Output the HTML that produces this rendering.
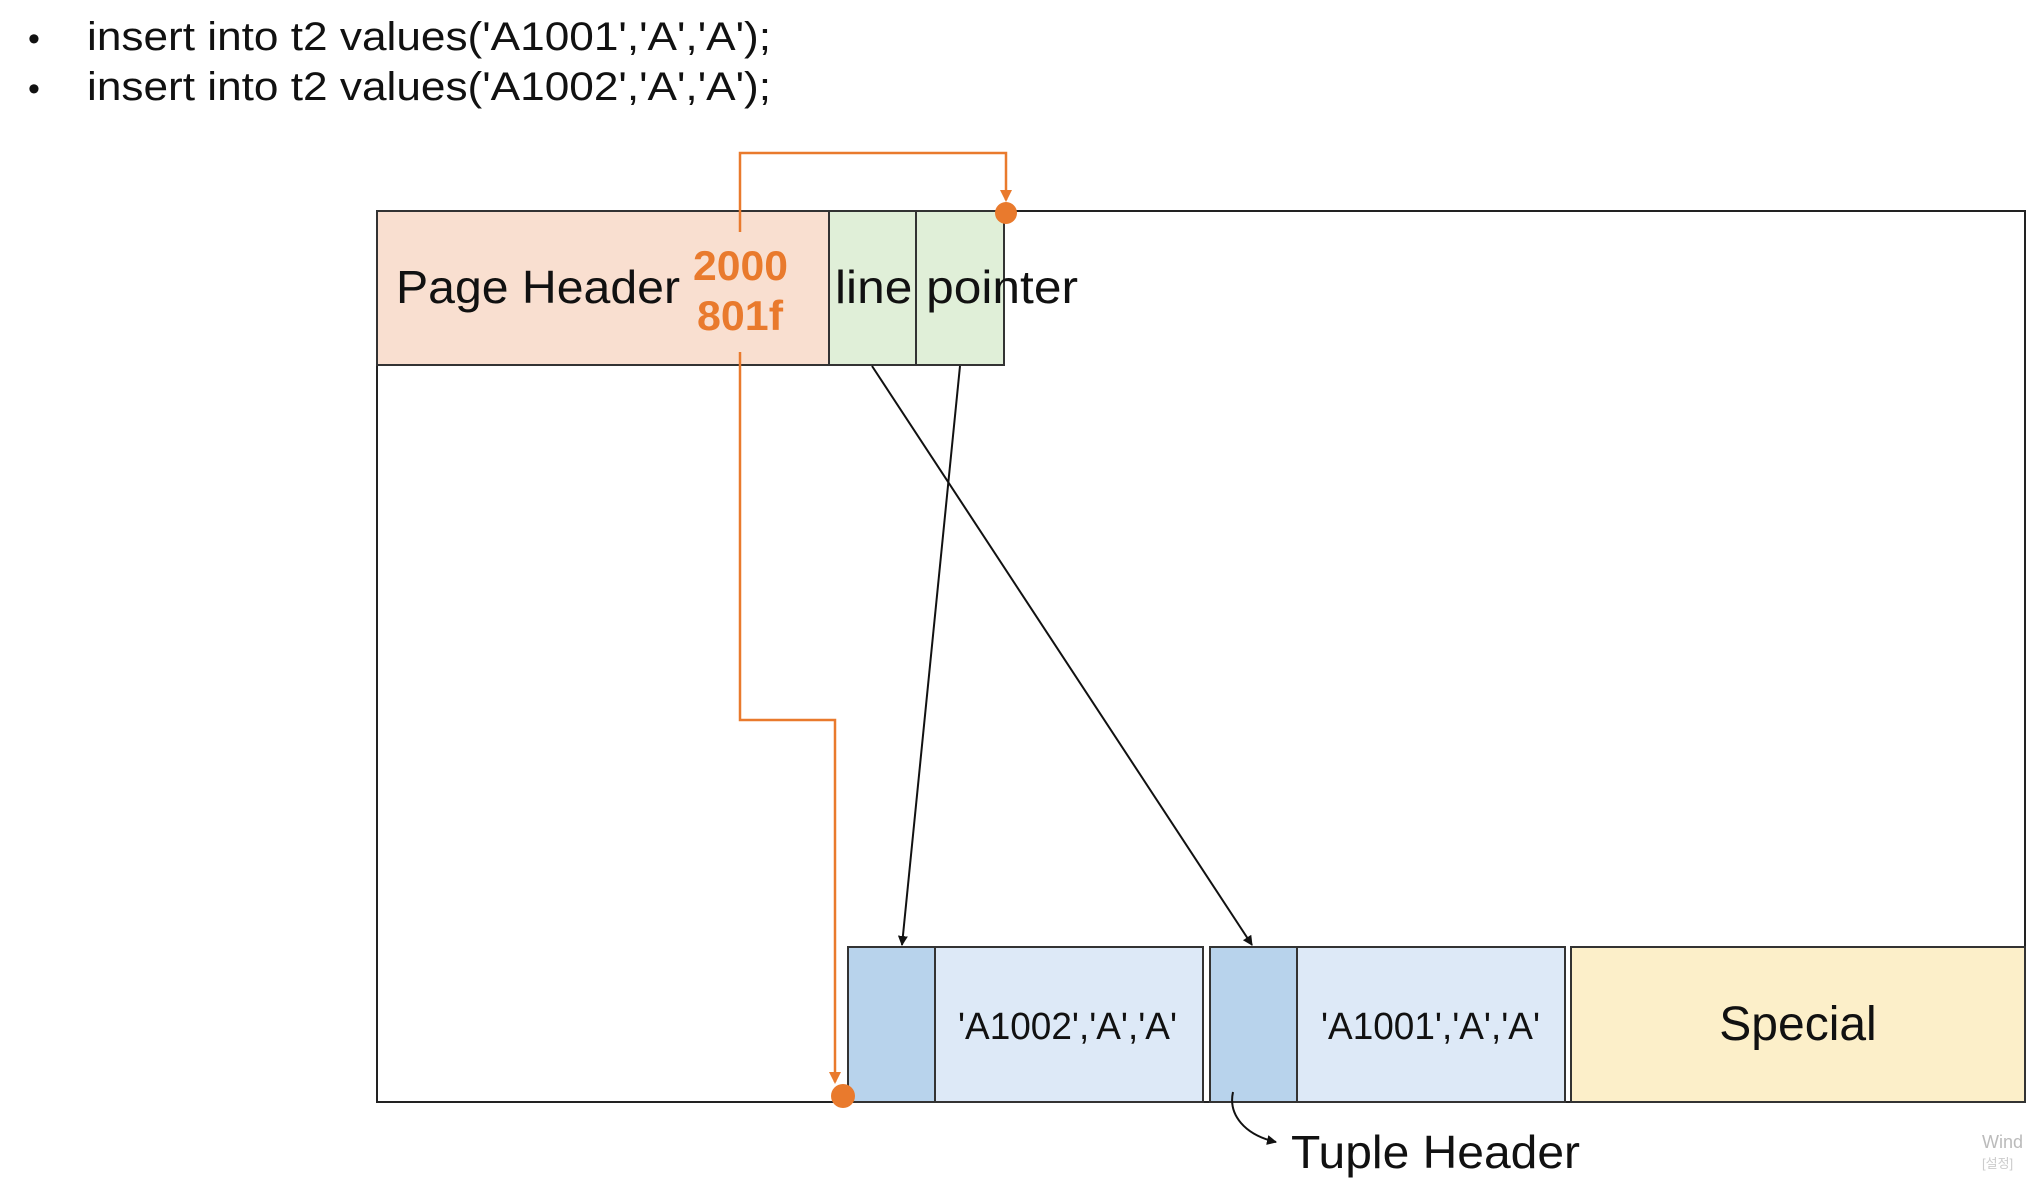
<!DOCTYPE html>
<html><head><meta charset="utf-8"><style>
html,body{margin:0;padding:0;background:#fff;}
body{width:2031px;height:1185px;position:relative;overflow:hidden;font-family:"Liberation Sans",sans-serif;}
</style></head><body>
<svg width="2031" height="1185" viewBox="0 0 2031 1185" xmlns="http://www.w3.org/2000/svg" style="position:absolute;left:0;top:0">
<defs>
<marker id="ab" markerWidth="10" markerHeight="10" refX="9" refY="5" orient="auto" markerUnits="userSpaceOnUse" viewBox="0 0 10 10"><path d="M0,0 L10,5 L0,10 z" fill="#111"/></marker>
<marker id="ao" markerWidth="12" markerHeight="12" refX="10" refY="6" orient="auto" markerUnits="userSpaceOnUse" viewBox="0 0 12 12"><path d="M0,0 L12,6 L0,12 z" fill="#e97a2d"/></marker>
</defs>
<g font-family="Liberation Sans, sans-serif" fill="#111">
<text x="28" y="50" font-size="34">•</text>
<text x="87" y="50" font-size="40" textLength="684" lengthAdjust="spacingAndGlyphs">insert into  t2 values('A1001','A','A');</text>
<text x="28" y="100" font-size="34">•</text>
<text x="87" y="100" font-size="40" textLength="684" lengthAdjust="spacingAndGlyphs">insert into  t2 values('A1002','A','A');</text>
</g>
<rect x="377" y="211" width="1648" height="891" fill="#fff" stroke="#222" stroke-width="2"/>
<rect x="377" y="211" width="452" height="154" fill="#f9dfd0" stroke="#333" stroke-width="2"/>
<rect x="829" y="211" width="87" height="154" fill="#e0efd8" stroke="#333" stroke-width="2"/>
<rect x="916" y="211" width="88" height="154" fill="#e0efd8" stroke="#333" stroke-width="2"/>
<rect x="848" y="947" width="87" height="155" fill="#b8d3ec" stroke="#333" stroke-width="2"/>
<rect x="935" y="947" width="268" height="155" fill="#dde9f7" stroke="#333" stroke-width="2"/>
<rect x="1210" y="947" width="87" height="155" fill="#b8d3ec" stroke="#333" stroke-width="2"/>
<rect x="1297" y="947" width="268" height="155" fill="#dde9f7" stroke="#333" stroke-width="2"/>
<rect x="1571" y="947" width="454" height="155" fill="#fcefc9" stroke="#333" stroke-width="2"/>
<g font-family="Liberation Sans, sans-serif" fill="#111">
<text x="396" y="303" font-size="46" textLength="284" lengthAdjust="spacingAndGlyphs">Page Header</text>
<text x="835" y="303" font-size="46" textLength="243" lengthAdjust="spacingAndGlyphs">line pointer</text>
<text x="958" y="1039" font-size="38" textLength="219" lengthAdjust="spacingAndGlyphs">'A1002','A','A'</text>
<text x="1321" y="1039" font-size="38" textLength="219" lengthAdjust="spacingAndGlyphs">'A1001','A','A'</text>
<text x="1798" y="1040" font-size="48" text-anchor="middle">Special</text>
<text x="1291" y="1168" font-size="46" textLength="289" lengthAdjust="spacingAndGlyphs">Tuple Header</text>
<text x="1982" y="1148" font-size="18" fill="#bbb">Wind</text>
<text x="1982" y="1168" font-size="13" fill="#ccc">[설정]</text>
</g>
<g font-family="Liberation Sans, sans-serif" fill="#e97a2d" font-weight="bold">
<text x="693" y="280" font-size="42" textLength="95" lengthAdjust="spacingAndGlyphs">2000</text>
<text x="697" y="330" font-size="42" textLength="86" lengthAdjust="spacingAndGlyphs">801f</text>
</g>
<g fill="none" stroke="#e97a2d" stroke-width="2.5">
<polyline points="740,232 740,153 1006,153 1006,200" marker-end="url(#ao)"/>
<polyline points="740,352 740,720 835,720 835,1082" marker-end="url(#ao)"/>
</g>
<circle cx="1006" cy="213" r="11" fill="#e97a2d"/>
<circle cx="843" cy="1096" r="12" fill="#e97a2d"/>
<g stroke="#111" stroke-width="2" fill="none">
<line x1="872" y1="366" x2="1252" y2="945" marker-end="url(#ab)"/>
<line x1="960" y1="366" x2="902" y2="945" marker-end="url(#ab)"/>
<path d="M1233,1092 C1228,1115 1245,1135 1276,1142" marker-end="url(#ab)"/>
</g>
</svg>
</body></html>
